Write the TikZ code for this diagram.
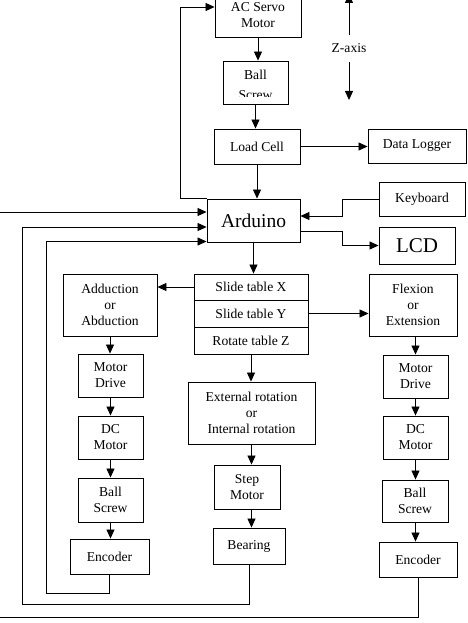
\documentclass[tikz,border=0pt]{standalone}
\usepackage{fontspec}
\setmainfont{Liberation Serif}
\usetikzlibrary{arrows.meta,calc}
\newcommand{\fs}{\fontsize{13.6}{16}\selectfont}
\newcommand{\fb}{\fontsize{19.5}{22}\selectfont}
\newcommand{\fl}{\fontsize{21}{24}\selectfont}
\tikzset{
  box/.style={draw, line width=0.9pt, align=center, inner sep=0pt, font=\fs},
  arr/.style={-{Triangle[length=9pt,width=8pt]}, line width=0.8pt},
  plain/.style={font=\fs, inner sep=0pt}
}
\begin{document}
\begin{tikzpicture}[x=1pt,y=-1pt]
\useasboundingbox (0,0) rectangle (467,623);
% top column
\node[box, minimum width=86pt, minimum height=44pt] (acservo) at (258,15) {AC Servo\\Motor};
\node[box, minimum width=65pt, minimum height=43pt] (bstop) at (255.5,82.5) {};
\begin{scope}
\clip (bstop.north west) rectangle ([yshift=8pt]bstop.south east);
\node[plain, anchor=base] (bstopa) at (255.5,80) {Ball};
\node[plain, anchor=base] (bstopb) at (255.5,99.5) {Screw};
\end{scope}
\node[box, minimum width=86pt, minimum height=35pt] (loadcell) at (257,146.5) {Load Cell};
\node[box, minimum width=98pt, minimum height=34pt] (datalogger) at (417,146) {Data Logger};
\node[box, minimum width=86pt, minimum height=34pt] (keyboard) at (422,199) {Keyboard};
\node[box, minimum width=76pt, minimum height=37pt, font=\fl] (lcd) at (417,245.5) {LCD};
\node[box, minimum width=93pt, minimum height=43pt, font=\fb] (arduino) at (253.5,220.5) {Arduino};
% Z axis
\node[plain, minimum height=27pt] (zlabel) at (349,48.5) {Z-axis};
\coordinate (ztop) at (349,-6);
\coordinate (zbot) at (349,100);
% slide stack
\node[box, minimum width=114pt, minimum height=26pt] (slidex) at (251,287) {Slide table X};
\node[box, minimum width=114pt, minimum height=27pt] (slidey) at (251,313.5) {Slide table Y};
\node[box, minimum width=114pt, minimum height=27pt] (rotz) at (251,340.5) {Rotate table Z};
% left column
\node[box, minimum width=94pt, minimum height=62pt] (adduction) at (110,305) {Adduction\\or\\Abduction};
\node[box, minimum width=65pt, minimum height=43pt] (mdL) at (110.5,375.5) {Motor\\Drive};
\node[box, minimum width=65pt, minimum height=43pt] (dcL) at (110.5,437.5) {DC\\Motor};
\node[box, minimum width=65pt, minimum height=44pt] (bsL) at (110.5,500) {Ball\\Screw};
\node[box, minimum width=79pt, minimum height=35pt] (encL) at (109.5,556.5) {Encoder};
% right column
\node[box, minimum width=88pt, minimum height=62pt] (flexion) at (413,305) {Flexion\\or\\Extension};
\node[box, minimum width=65pt, minimum height=43pt] (mdR) at (415.5,376.5) {Motor\\Drive};
\node[box, minimum width=65pt, minimum height=43pt] (dcR) at (415.5,437.5) {DC\\Motor};
\node[box, minimum width=66pt, minimum height=42pt] (bsR) at (415,501) {Ball\\Screw};
\node[box, minimum width=78pt, minimum height=35pt] (encR) at (418,559.5) {Encoder};
% center column
\node[box, minimum width=127pt, minimum height=62pt] (ext) at (251.5,413) {External rotation\\or\\Internal rotation};
\node[box, minimum width=66pt, minimum height=44pt] (step) at (247,487) {Step\\Motor};
\node[box, minimum width=72pt, minimum height=36pt] (bearing) at (249,546) {Bearing};
% connectors
\draw[arr] (zlabel.north) -- (ztop);
\draw[arr] (zlabel.south) -- (zbot);
\draw[arr] (acservo.south) -- (acservo.south |- bstop.north);
\draw[arr] (bstop.south) -- (bstop.south |- loadcell.north);
\draw[arr] (loadcell.south) -- (loadcell.south |- arduino.north);
\draw[arr] (loadcell.east) -- (loadcell.east -| datalogger.west);
\draw[arr] (arduino.north west) -- ++(-26,0) |- ([yshift=8pt]acservo.west);
\draw[arr] (keyboard.west) -- ++(-36,0) |- ([yshift=4.5pt]arduino.east);
\draw[arr] ([yshift=-10.5pt]arduino.east) -- ++(42,0) |- (lcd.west);
\draw[arr] (arduino.south) -- (arduino.south |- slidex.north);
\draw[arr] (slidex.west) -- (slidex.west -| adduction.east);
\draw[arr] (slidey.east) -- (slidey.east -| flexion.west);
\draw[arr] (rotz.south) -- (rotz.south |- ext.north);
\draw[arr] (ext.south) -- (ext.south |- step.north);
\draw[arr] (ext.south |- step.south) -- (ext.south |- bearing.north);
\draw[arr] (adduction.south) -- (adduction.south |- mdL.north);
\draw[arr] (mdL.south) -- (dcL.north);
\draw[arr] (dcL.south) -- (bsL.north);
\draw[arr] (bsL.south) -- (bsL.south |- encL.north);
\draw[arr] (mdR.north |- flexion.south) -- (mdR.north);
\draw[arr] (mdR.south) -- (dcR.north);
\draw[arr] (dcR.south) -- (dcR.south |- bsR.north);
\draw[arr] (dcR.south |- bsR.south) -- (dcR.south |- encR.north);
% feedback loops
\draw[arr] (encR.south) |- (-3,617) |- ([yshift=8.5pt]arduino.west);
\draw[arr] (bearing.south) |- (22,604) |- ([yshift=-6.5pt]arduino.west);
\draw[arr] (encL.south) |- (46,593) |- ([yshift=-21pt]arduino.west);
\end{tikzpicture}
\end{document}
